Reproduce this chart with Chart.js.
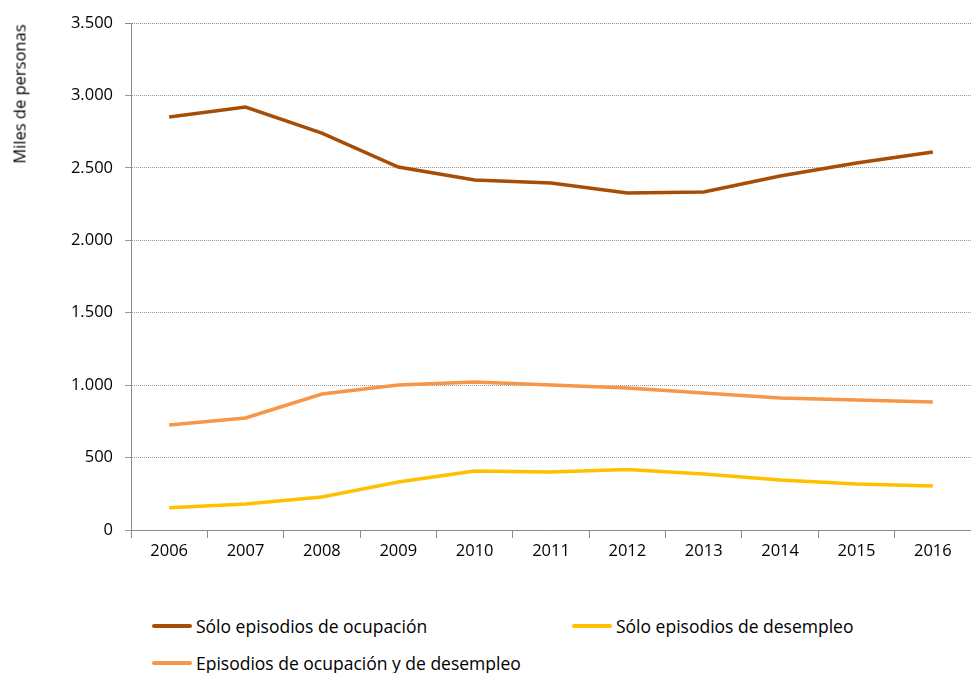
<!DOCTYPE html>
<html>
<head>
<meta charset="utf-8">
<script src="https://cdn.jsdelivr.net/npm/chart.js@4/dist/chart.umd.min.js"></script>
<style>
  body { margin: 0; background: #fff; font-family: "Open Sans", sans-serif; }
  #wrap { position: relative; width: 971px; height: 673px; }
  #chart-box { position: absolute; left: 0; top: 0; width: 971px; height: 580px; }
  #ytitle {
    position: absolute; left: 19px; top: 94px; font-size: 16.5px; color: #000;
    transform: translate(-50%, -50%) rotate(-90deg); white-space: nowrap;
  }
  .leg { position: absolute; font-size: 17.5px; color: #000; white-space: nowrap; display: flex; align-items: center; }
  .leg span.sw { display: inline-block; width: 40px; height: 4px; margin-right: 4px; border-radius: 2px; }
</style>
</head>
<body>
<div id="wrap">
  <div id="chart-box"><canvas id="line-chart"></canvas></div>
  <div id="ytitle">Miles de personas</div>
  <div id="legend"></div>
</div>
<script>
const years = ['2006', '2007', '2008', '2009', '2010', '2011', '2012', '2013', '2014', '2015', '2016'];
const soloOcupacion = [2851, 2920, 2740, 2506, 2416, 2395, 2326, 2333, 2444, 2533, 2609];
const soloDesempleo = [154, 180, 228, 331, 407, 400, 418, 387, 345, 318, 304];
const ambos = [725, 773, 939, 1001, 1022, 1001, 980, 946, 911, 897, 884];
const seriesNames = ['Sólo episodios de ocupación', 'Sólo episodios de desempleo', 'Episodios de ocupación y de desempleo'];
const seriesColors = ['#A64D07', '#FFC000', '#F79646'];

const fmt = (v) => v.toLocaleString('de-DE');

const datasets = [soloOcupacion, soloDesempleo, ambos].map((data, i) => ({
  label: seriesNames[i],
  data: data,
  borderColor: seriesColors[i],
  backgroundColor: seriesColors[i],
  borderWidth: 3.5,
  pointRadius: 0,
  tension: 0,
  fill: false
}));

const ctx = document.querySelector('#line-chart');
new Chart(ctx, {
  type: 'line',
  data: { labels: years, datasets: datasets },
  options: {
    responsive: true,
    maintainAspectRatio: false,
    animation: { duration: 0 },
    layout: { padding: { top: 23, right: 0, left: 0, bottom: 0 } },
    plugins: { legend: { display: false }, tooltip: { enabled: false } },
    scales: {
      x: {
        offset: true,
        grid: { offset: true, drawOnChartArea: false, tickLength: 8, color: '#8c8c8c' },
        border: { color: '#8c8c8c', width: 1 },
        ticks: { color: '#000', font: { family: 'Open Sans', size: 16.5 }, padding: 3, maxRotation: 0 },
        afterFit: (scale) => { scale.height = 50; }
      },
      y: {
        min: 0,
        max: 3500,
        ticks: {
          stepSize: 500,
          color: '#000',
          padding: 12,
          font: { family: 'Open Sans', size: 16.5 },
          callback: (v) => fmt(v)
        },
        grid: {
          color: (c) => c.tick && c.tick.value === 3500 ? '#8a8a8a' : '#9a9a9a',
          tickLength: 6,
          tickBorderDash: []
        },
        border: { color: '#8c8c8c', width: 1, dash: [1, 1] },
        afterFit: (scale) => { scale.width = 131; }
      }
    }
  }
});

// legend laid out like the original: two columns, wrapped to a second row
const legendPos = [[152, 627], [572, 627], [152, 664]];
const legendBox = document.querySelector('#legend');
seriesNames.forEach((name, i) => {
  const el = document.createElement('div');
  el.className = 'leg';
  el.style.left = legendPos[i][0] + 'px';
  el.style.top = (legendPos[i][1] - 13) + 'px';
  el.innerHTML = '<span class="sw" style="background:' + seriesColors[i] + '"></span>' + name;
  legendBox.appendChild(el);
});
</script>
</body>
</html>
